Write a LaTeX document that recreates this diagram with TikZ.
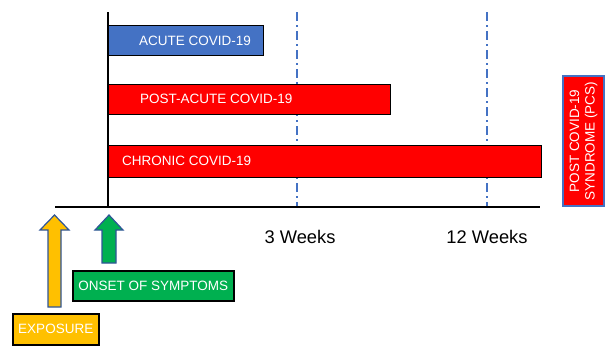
\documentclass[tikz,border=0pt]{standalone}
\usepackage{fontspec}
\setmainfont{Liberation Sans}
\definecolor{accblue}{HTML}{4472C4}
\definecolor{accred}{HTML}{FF0000}
\definecolor{accyellow}{HTML}{FFC000}
\definecolor{accgreen}{HTML}{00B050}
\definecolor{arrowedge}{HTML}{2F5597}
\begin{document}
\begin{tikzpicture}[x=1pt,y=-1pt,
  barbox/.style={draw=black, line width=1.3pt, minimum height=30pt, inner sep=0pt, anchor=north west},
  bartext/.style={anchor=west, text=white, font=\fontsize{13.5}{15}\selectfont, inner sep=0pt},
  tagbox/.style={draw=black, line width=1.5pt, inner sep=0pt, text=white, font=\fontsize{13.5}{15}\selectfont, minimum height=30pt},
  axisline/.style={line width=1.3pt, black},
  markerline/.style={accblue, line width=1.6pt, dash pattern=on 9pt off 4pt on 2pt off 4pt},
  weeks/.style={font=\fontsize{18.3}{20}\selectfont, inner sep=0pt},
  uparrow/.style={draw=arrowedge, line width=1.2pt, line join=miter}
]
\useasboundingbox (0,0) rectangle (607,346);
% dashed markers
\coordinate (m1t) at (297,12); \coordinate (m1b) at (297,207);
\coordinate (m2t) at (487,12); \coordinate (m2b) at (487,207);
\draw[markerline] (m1t) -- (m1b);
\draw[markerline] (m2t) -- (m2b);
% bars
\node[barbox, fill=accblue, minimum width=155pt] (acute) at (108,25) {};
\node[bartext] (acutet) at (139,40.5) {ACUTE COVID-19};
\node[barbox, fill=accred, minimum width=282pt] (post) at (108,84) {};
\node[bartext] (postt) at (140,99) {POST-ACUTE COVID-19};
\node[barbox, fill=accred, minimum width=433pt, minimum height=32pt] (chronic) at (108,145) {};
\node[bartext] (chronict) at (122,160.5) {CHRONIC COVID-19};
% axes
\coordinate (vtop) at (108,12); \coordinate (vbot) at (108,207);
\coordinate (hl) at (55,207); \coordinate (hr) at (540,207);
\draw[axisline] (vtop) -- (vbot);
\draw[axisline] (hl) -- (hr);
% weeks
\node[weeks] (w3) at (300,237) {3 Weeks};
\node[weeks] (w12) at (487,237) {12 Weeks};
% PCS box
\node[draw=accblue, fill=accred, line width=1.3pt, minimum width=130pt, minimum height=41pt, inner sep=0pt, rotate=90, text=white, align=center, font=\fontsize{13.5}{15.5}\selectfont] (pcs) at (583.5,141) {POST COVID-19\\SYNDROME (PCS)};
% arrows
\filldraw[uparrow, fill=accyellow] (48,307) -- (48,230) -- (40,230) -- (54.5,215) -- (69,230) -- (61,230) -- (61,307) -- cycle;
\filldraw[uparrow, fill=accgreen] (102,263) -- (102,230) -- (95,230) -- (109,215) -- (123,230) -- (116,230) -- (116,263) -- cycle;
% labels
\node[tagbox, fill=accgreen, minimum width=161pt, anchor=north west] (onset) at (72,270) {ONSET OF SYMPTOMS};
\node[tagbox, fill=accyellow, minimum width=86pt, minimum height=31pt, anchor=north west] (expo) at (12,313) {EXPOSURE};
\end{tikzpicture}
\end{document}
